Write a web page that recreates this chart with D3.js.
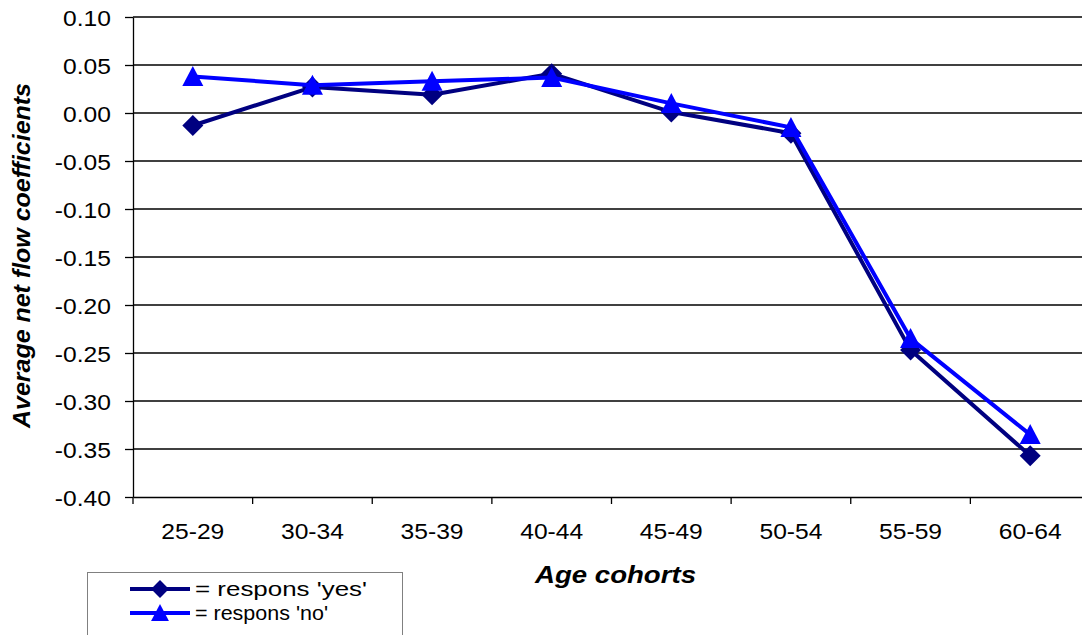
<!DOCTYPE html>
<html><head><meta charset="utf-8">
<script src="https://cdn.jsdelivr.net/npm/d3@7"></script>
<style>html,body{margin:0;padding:0;background:#fff;overflow:hidden}svg{display:block;font-family:Arial,"Liberation Sans",sans-serif}</style>
</head><body>
<svg id="c" width="1082" height="635"></svg>
<script>
const categories = ["25-29","30-34","35-39","40-44","45-49","50-54","55-59","60-64"];
const seriesNames = ["= respons 'yes'","= respons 'no'"];
const yesValues = [-0.013, 0.027, 0.019, 0.041, 0.001, -0.021, -0.247, -0.357];
const noValues  = [0.038, 0.029, 0.033, 0.037, 0.010, -0.015, -0.235, -0.335];
const yTicks = [0.10,0.05,0.00,-0.05,-0.10,-0.15,-0.20,-0.25,-0.30,-0.35,-0.40];
const yTitle = "Average net flow coefficients";
const xTitle = "Age cohorts";

(function () {
const svg = d3.select("#c");
const pLeft = 133, pRight = 1090, pTop = 17, pBottom = 497;
const x = d3.scaleBand().domain(categories).range([pLeft, pRight]);
const y = d3.scaleLinear().domain([-0.4, 0.1]).range([pBottom, pTop]);
const SX = 1.12;

// gridlines
svg.append("g").selectAll("line").data(yTicks.filter(v => v > -0.4)).join("line")
  .attr("x1", pLeft).attr("x2", pRight).attr("y1", d => y(d)).attr("y2", d => y(d))
  .attr("stroke", "#000").attr("stroke-width", 1.3);

// y axis
const yAxis = svg.append("g").attr("transform", `translate(${pLeft},0)`)
  .call(d3.axisLeft(y).tickValues(yTicks).tickSize(8).tickSizeOuter(0).tickFormat(d3.format(".2f")));
yAxis.select(".domain").attr("stroke", "#000").attr("stroke-width", 1.3);
yAxis.selectAll(".tick line").attr("stroke", "#000").attr("stroke-width", 1.3);
yAxis.selectAll(".tick text").attr("font-size", 22).attr("fill", "#000")
  .attr("x", 0).attr("dy", null).attr("dominant-baseline", "central")
  .attr("transform", `translate(-22,1) scale(${SX},1)`)
  .text(d => d3.format(".2f")(d).replace("\u2212", "-"));

// x axis
const xAxis = svg.append("g").attr("transform", `translate(0,${pBottom})`)
  .call(d3.axisBottom(x).tickSize(0).tickSizeOuter(0));
xAxis.select(".domain").attr("stroke", "#000").attr("stroke-width", 1.3);
xAxis.selectAll(".tick text").attr("font-size", 22).attr("fill", "#000")
  .attr("y", 0).attr("dy", null)
  .attr("transform", `translate(0,42) scale(${SX},1)`);
// category separator ticks
svg.append("g").selectAll("line").data(categories).join("line")
  .attr("x1", d => x(d)).attr("x2", d => x(d))
  .attr("y1", pBottom).attr("y2", pBottom + 7)
  .attr("stroke", "#000").attr("stroke-width", 1.3);

// titles
svg.append("text").attr("transform", "translate(30,255.5) rotate(-90)")
  .attr("text-anchor", "middle").attr("font-size", 23).attr("font-weight", "bold").attr("font-style", "italic")
  .attr("textLength", 345).attr("lengthAdjust", "spacingAndGlyphs").text(yTitle);
svg.append("text").attr("x", 535).attr("y", 583)
  .attr("font-size", 23).attr("font-weight", "bold").attr("font-style", "italic")
  .attr("textLength", 161).attr("lengthAdjust", "spacingAndGlyphs").text(xTitle);

const diamond = "M0,-10.5L10.5,0L0,10.5L-10.5,0Z";
const triangle = "M0,-10.5L10.5,9.5L-10.5,9.5Z";
const series = [
  {name: seriesNames[0], values: yesValues, color: "#000080", marker: diamond},
  {name: seriesNames[1], values: noValues, color: "#0000FF", marker: triangle}
];
const cx = c => x(c) + x.bandwidth() / 2;
const line = d3.line().x((d, i) => cx(categories[i])).y(d => y(d));
series.forEach(s => {
  const g = svg.append("g");
  g.append("path").datum(s.values).attr("d", line).attr("fill", "none")
    .attr("stroke", s.color).attr("stroke-width", 4).attr("stroke-linejoin", "round");
  g.selectAll("path.m").data(s.values).join("path").attr("class", "m")
    .attr("d", s.marker).attr("fill", s.color)
    .attr("transform", (d, i) => `translate(${cx(categories[i])},${y(d)})`);
});

// legend
const lg = svg.append("g");
lg.append("rect").attr("x", 87.5).attr("y", 572.5).attr("width", 315).attr("height", 64)
  .attr("fill", "#fff").attr("stroke", "#808080").attr("stroke-width", 1);
series.forEach((s, i) => {
  const ly = 589 + i * 24;
  lg.append("line").attr("x1", 130).attr("x2", 190).attr("y1", ly).attr("y2", ly)
    .attr("stroke", s.color).attr("stroke-width", 4);
  lg.append("path").attr("d", s.marker).attr("fill", s.color)
    .attr("transform", `translate(160,${ly}) scale(0.85)`);
  lg.append("text").attr("x", 195).attr("y", ly + 7).attr("font-size", 21).attr("fill", "#000")
    .attr("textLength", i === 0 ? 172 : 133).attr("lengthAdjust", "spacingAndGlyphs").text(s.name);
});
})();
</script>
</body></html>
